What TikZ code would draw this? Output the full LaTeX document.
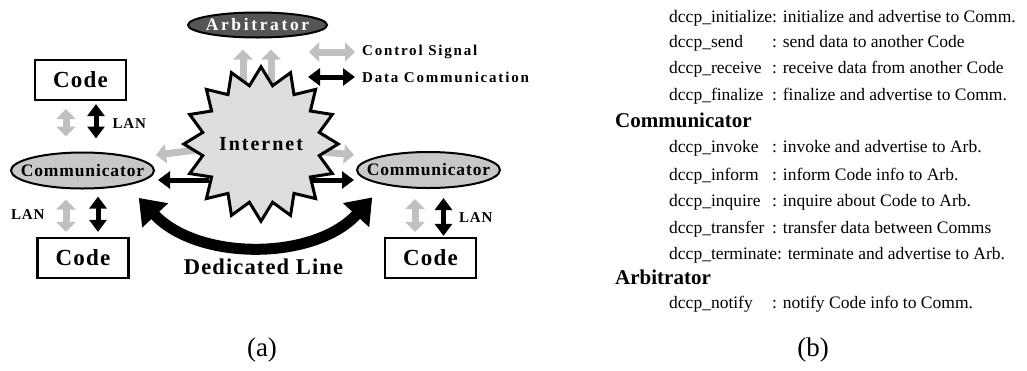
\documentclass[tikz,border=0pt]{standalone}
\usepackage{fontspec}
\setmainfont{Liberation Serif}
\usetikzlibrary{shapes.geometric,arrows.meta,calc,backgrounds}
\definecolor{commgray}{RGB}{200,200,200}
\definecolor{arbgray}{RGB}{85,85,85}
\definecolor{stargray}{RGB}{222,222,222}
\definecolor{ctrlgray}{RGB}{192,192,192}
\newcommand{\fsz}[1]{\fontsize{#1}{#1}\selectfont}
\begin{document}
\begin{tikzpicture}[x=1pt,y=-1pt,
  codebox/.style={draw,line width=2.2pt,fill=white,minimum width=91pt,minimum height=40pt,inner sep=0pt,
    font=\fsz{23}\bfseries\addfontfeatures{LetterSpace=5}},
  commell/.style={ellipse,draw,line width=2pt,fill=commgray,minimum width=143pt,minimum height=36pt,inner sep=0pt,
    font=\fsz{17.5}\bfseries\addfontfeatures{LetterSpace=5}},
  arbell/.style={ellipse,draw,line width=2pt,fill=arbgray,text=white,minimum width=139pt,minimum height=25pt,inner sep=0pt,
    font=\fsz{17.5}\bfseries\addfontfeatures{LetterSpace=15}},
  legtext/.style={anchor=west,inner sep=0pt,font=\fsz{15}\bfseries\addfontfeatures{LetterSpace=12}},
  lantext/.style={anchor=west,inner sep=0pt,font=\fsz{15}\bfseries\addfontfeatures{LetterSpace=5}},
  blk/.style={line width=5pt,arrows={Triangle[length=12pt,width=17pt]-Triangle[length=12pt,width=17pt]}},
  blkone/.style={line width=5pt,arrows={-Triangle[length=12pt,width=17pt]}},
  gry/.style={line width=7pt,draw=ctrlgray,arrows={Triangle[length=10pt,width=19pt]-Triangle[length=10pt,width=19pt]}},
  gryone/.style={line width=7pt,draw=ctrlgray,arrows={-Triangle[length=10pt,width=19pt]}},
  dedline/.style={line width=11pt,arrows={Triangle[length=24pt,width=34pt]-Triangle[length=24pt,width=34pt]}},
  rowtext/.style={anchor=base west,inner sep=0pt,font=\fsz{17.5}},
  headtext/.style={anchor=base west,inner sep=0pt,font=\fsz{21}\bfseries},
  captext/.style={inner sep=0pt,font=\fsz{27}}
]
\useasboundingbox (0,0) rectangle (1027,370);

% ---------- panel (a) nodes ----------
\node[arbell] (arb) at (257.5,25) {\makebox[0pt]{Arbitrator}};
\node[codebox] (code1) at (80.5,80) {Code};
\node[commell] (lc) at (82.5,170.5) {\makebox[0pt]{Communicator}};
\node[codebox] (code2) at (83,258) {Code};
\node[commell] (rc) at (428.5,170) {\makebox[0pt]{Communicator}};
\node[codebox] (code3) at (430.5,258) {Code};
\node[star,star points=16,star point ratio=1.3,minimum size=150pt,inner sep=0pt,draw,line width=3pt,
  fill=stargray,font=\fsz{20}\bfseries\addfontfeatures{LetterSpace=10}] (inet) at (261,144) {Internet};

% legend
\coordinate (cs1) at (309,52);
\coordinate (cs2) at (355,52);
\coordinate (dc1) at (308,77);
\coordinate (dc2) at (355,77);
\node[legtext] (cstext) at (362,52) {Control Signal};
\node[legtext] (dctext) at (362,77) {Data Communication};
\draw[gry] (cs1) -- (cs2);
\draw[blk] (dc1) -- (dc2);

% LAN labels
\node[lantext] (lan1) at (112.5,124) {LAN};
\node[lantext] (lan2) at (11,215) {LAN};
\node[lantext] (lan3) at (459,218) {LAN};

% LAN connectors
\draw[gry] ($(code1.south)+(-14.5,8)$) -- ($(lc.north)+(-16.5,-15)$);
\draw[blk] ($(code1.south)+(15.5,3)$) -- ($(lc.north)+(13.5,-13)$);
\draw[gry] ($(lc.south)+(-16.5,10)$) -- ($(code2.north)+(-17,-5)$);
\draw[blk] ($(lc.south)+(15.5,7)$) -- ($(code2.north)+(15,-5)$);
\draw[gry] ($(rc.south)+(-13.5,10)$) -- ($(code3.north)+(-15.5,-5)$);
\draw[blk] ($(rc.south)+(15,9)$) -- ($(code3.north)+(13,-1)$);

% Internet connectors (behind the star)
\begin{scope}[on background layer]
\draw[gryone] ($(inet.center)+(-18,-50)$) -- ($(arb.south)+(-14.5,11)$);
\draw[gryone] ($(inet.center)+(10,-50)$) -- ($(arb.south)+(13.5,11)$);
\draw[gryone] ($(inet.center)+(-65,6)$) -- ($(lc.east)+(1,-15.5)$);
\draw[gryone] ($(inet.center)+(62,8)$) -- ($(rc.west)+(-2,-15)$);
\draw[blkone] ($(inet.center)+(-52,36)$) -- ($(lc.east)+(3,9.5)$);
\draw[blkone] ($(inet.center)+(51,36)$) -- ($(rc.west)+(-2,10)$);
\end{scope}

% dedicated line
\draw[dedline] ($(lc.south east)+(5,14)$) .. controls (198,261) and (314,261) .. ($(rc.south west)+(-5,14)$);
\node[inner sep=0pt,font=\fsz{22.5}\bfseries\addfontfeatures{LetterSpace=5}] (ded) at (263.5,267) {Dedicated Line};

\node[captext] (capa) at (262,350) {(a)};

% ---------- panel (b) ----------
\node[rowtext] (n1) at (669,22) {dccp\_initialize};
\node[rowtext] (d1) at (772,22) {: initialize and advertise to Comm.};
\node[rowtext] (n2) at (669,47) {dccp\_send};
\node[rowtext] (d2) at (772,47) {: send data to another Code};
\node[rowtext] (n3) at (669,73) {dccp\_receive};
\node[rowtext] (d3) at (772,73) {: receive data from another Code};
\node[rowtext] (n4) at (669,100) {dccp\_finalize};
\node[rowtext] (d4) at (772,100) {: finalize and advertise to Comm.};
\node[headtext] (h1) at (615,127) {Communicator};
\node[rowtext] (n5) at (669,152) {dccp\_invoke};
\node[rowtext] (d5) at (772,152) {: invoke and advertise to Arb.};
\node[rowtext] (n6) at (669,180) {dccp\_inform};
\node[rowtext] (d6) at (772,180) {: inform Code info to Arb.};
\node[rowtext] (n7) at (669,206) {dccp\_inquire};
\node[rowtext] (d7) at (772,206) {: inquire about Code to Arb.};
\node[rowtext] (n8) at (669,233) {dccp\_transfer};
\node[rowtext] (d8) at (772,233) {: transfer data between Comms};
\node[rowtext] (n9) at (669,259) {dccp\_terminate: terminate and advertise to Arb.};
\node[headtext] (h2) at (615,284) {Arbitrator};
\node[rowtext] (n10) at (669,308) {dccp\_notify};
\node[rowtext] (d10) at (772,308) {: notify Code info to Comm.};

\node[captext] (capb) at (813,350) {(b)};
\end{tikzpicture}
\end{document}
